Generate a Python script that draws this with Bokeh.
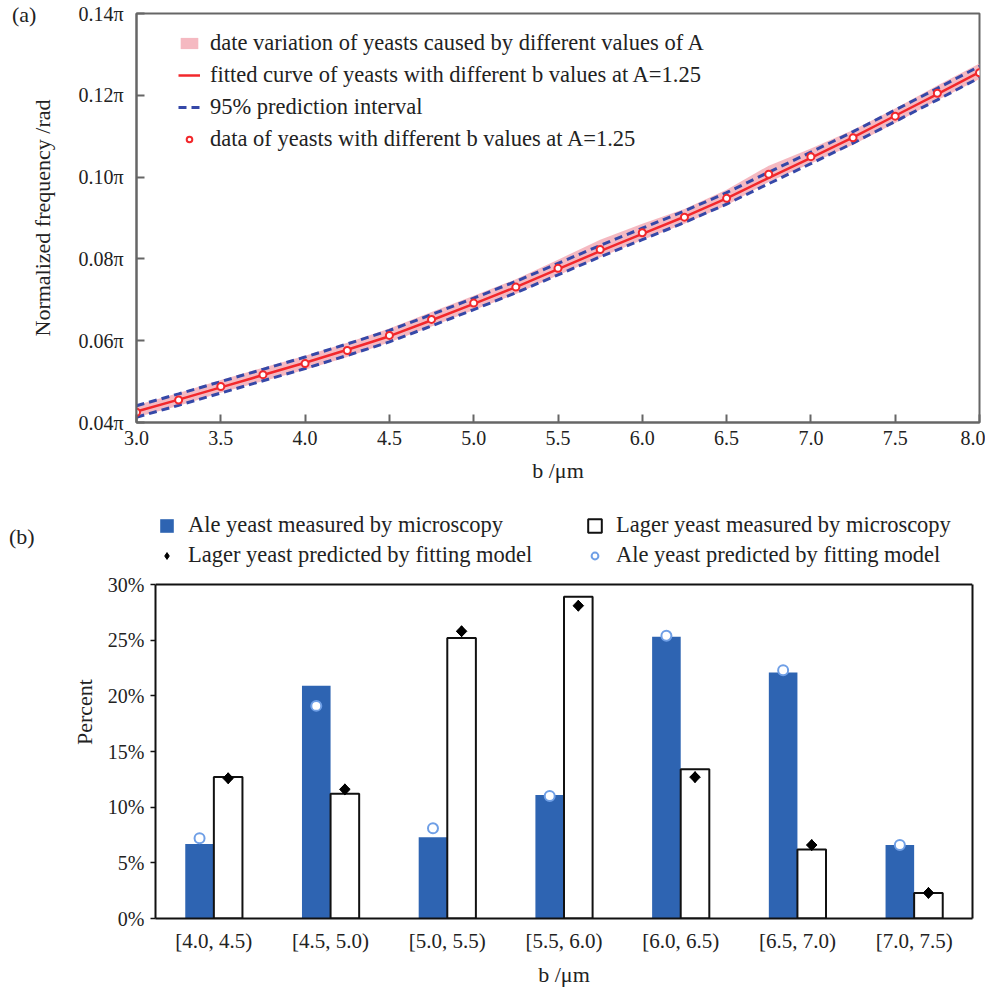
from bokeh.plotting import figure
from bokeh.models import (Legend, LegendItem, PrintfTickFormatter, FixedTicker, Div, Span, LinearAxis,
                          ColumnDataSource, Range1d, FactorRange)
from bokeh.transform import dodge
from bokeh.embed import file_html
from bokeh.resources import INLINE

FONT = "Liberation Serif"
TXT = "#222222"

# ---------------- (a) data: normalized frequency (units of pi) ----------------
b_vals = [3.0, 3.25, 3.5, 3.75, 4.0, 4.25, 4.5, 4.75, 5.0, 5.25, 5.5,
          5.75, 6.0, 6.25, 6.5, 6.75, 7.0, 7.25, 7.5, 7.75, 8.0]
freq_data = [0.0425, 0.0455, 0.0488, 0.0517, 0.0544, 0.0576, 0.0613, 0.0652, 0.0692, 0.0731, 0.0777,
             0.0823, 0.0864, 0.0902, 0.0948, 0.1007, 0.1050, 0.1096, 0.1149, 0.1205, 0.1255]
fit_curve = [0.0427, 0.0456, 0.0486, 0.0516, 0.0546, 0.0578, 0.0611, 0.0650, 0.0690, 0.0731, 0.0775,
             0.0819, 0.0861, 0.0903, 0.0948, 0.0998, 0.1047, 0.1097, 0.1150, 0.1203, 0.1257]
pi_upper = [0.0441, 0.0470, 0.0500, 0.0530, 0.0560, 0.0592, 0.0625, 0.0664, 0.0704, 0.0745, 0.0789,
            0.0833, 0.0875, 0.0917, 0.0962, 0.1012, 0.1061, 0.1111, 0.1164, 0.1217, 0.1271]
pi_lower = [0.0413, 0.0442, 0.0472, 0.0502, 0.0532, 0.0564, 0.0597, 0.0636, 0.0676, 0.0717, 0.0761,
            0.0805, 0.0847, 0.0889, 0.0934, 0.0984, 0.1033, 0.1083, 0.1136, 0.1189, 0.1243]
band_upper = [0.0442, 0.0472, 0.0504, 0.0534, 0.0563, 0.0595, 0.0630, 0.0670, 0.0710, 0.0750, 0.0798,
              0.0847, 0.0886, 0.0922, 0.0969, 0.1028, 0.1070, 0.1115, 0.1168, 0.1224, 0.1278]
band_lower = [0.0413, 0.0441, 0.0473, 0.0501, 0.0529, 0.0560, 0.0596, 0.0635, 0.0675, 0.0714, 0.0760,
              0.0804, 0.0846, 0.0886, 0.0931, 0.0988, 0.1033, 0.1079, 0.1132, 0.1188, 0.1240]
x_ticks_a = [3.0, 3.5, 4.0, 4.5, 5.0, 5.5, 6.0, 6.5, 7.0, 7.5, 8.0]
y_ticks_a = [0.04, 0.06, 0.08, 0.10, 0.12, 0.14]

# ---------------- (b) data: percent per size bin ----------------
categories = ["[4.0, 4.5)", "[4.5, 5.0)", "[5.0, 5.5)", "[5.5, 6.0)", "[6.0, 6.5)", "[6.5, 7.0)", "[7.0, 7.5)"]
ale_measured = [6.7, 20.9, 7.3, 11.1, 25.3, 22.1, 6.6]
lager_measured = [12.7, 11.2, 25.2, 28.9, 13.4, 6.2, 2.3]
lager_predicted = [12.6, 11.6, 25.8, 28.1, 12.7, 6.6, 2.3]
ale_predicted = [7.2, 19.1, 8.1, 11.0, 25.4, 22.3, 6.6]
y_ticks_b = [0, 5, 10, 15, 20, 25, 30]


def panel_tag(text, left, top):
    return Div(text=text, margin=0,
               styles={"position": "absolute", "left": f"{left}px", "top": f"{top}px",
                       "font-family": FONT, "font-size": "22px", "color": TXT,
                       "line-height": "22px", "white-space": "nowrap"})


# =============================== figure (a) ===============================
GRAY = "#666666"
p1 = figure(width=985, height=498, x_range=Range1d(3.0, 8.0), y_range=Range1d(0.04, 0.14),
            output_backend="svg", toolbar_location=None,
            min_border_left=136, min_border_right=6, min_border_top=13, min_border_bottom=76)
p1.xgrid.visible = False
p1.ygrid.visible = False
p1.outline_line_color = GRAY
p1.outline_line_width = 2

band = p1.varea(x=b_vals, y1=band_lower, y2=band_upper, fill_color="#F3A7B2", fill_alpha=0.8)
up = p1.line(b_vals, pi_upper, line_color="#3548A8", line_width=3, line_dash="8 5")
p1.line(b_vals, pi_lower, line_color="#3548A8", line_width=3, line_dash="8 5")
fitl = p1.line(b_vals, fit_curve, line_color="#F2282C", line_width=2.5)
pts = p1.scatter(b_vals, freq_data, size=7, fill_color="white", line_color="#F2282C", line_width=2)

for ax in (p1.below[0], p1.left[0]):
    ax.axis_line_color = GRAY
    ax.axis_line_width = 2
    ax.major_tick_line_color = GRAY
    ax.major_tick_line_width = 2
    ax.major_tick_in = 8
    ax.major_tick_out = 0
    ax.minor_tick_line_color = None
    ax.minor_tick_in = 0
    ax.minor_tick_out = 0
    ax.major_label_text_font = FONT
    ax.major_label_text_font_size = "20px"
    ax.major_label_text_color = TXT
    ax.axis_label_text_font = FONT
    ax.axis_label_text_font_size = "22px"
    ax.axis_label_text_font_style = "normal"
    ax.axis_label_text_color = TXT

xa = p1.below[0]
xa.ticker = FixedTicker(ticks=x_ticks_a)
xa.formatter = PrintfTickFormatter(format="%.1f")
xa.major_label_standoff = 8
xa.axis_label = "b /μm"
xa.axis_label_standoff = 10
ya = p1.left[0]
ya.ticker = FixedTicker(ticks=y_ticks_a)
ya.formatter = PrintfTickFormatter(format="%.2fπ")
ya.major_label_standoff = 13
ya.axis_label = "Normalized frequency /rad"
ya.axis_label_standoff = 20

leg1 = Legend(items=[
    LegendItem(label="date variation of yeasts caused by different values of A", renderers=[band]),
    LegendItem(label="fitted curve of yeasts with different b values at A=1.25", renderers=[fitl]),
    LegendItem(label="95% prediction interval", renderers=[up]),
    LegendItem(label="data of yeasts with different b values at A=1.25", renderers=[pts]),
], location=(42, 270))
leg1.border_line_color = None
leg1.background_fill_alpha = 0
leg1.label_text_font = FONT
leg1.label_text_font_size = "22.5px"
leg1.label_text_color = TXT
leg1.glyph_width = 22
leg1.glyph_height = 14
leg1.label_height = 14
leg1.label_standoff = 10
leg1.spacing = 6
leg1.padding = 0
leg1.margin = 0
p1.add_layout(leg1)

# =============================== figure (b) ===============================
src = ColumnDataSource(dict(cat=categories, ale=ale_measured, lager=lager_measured,
                            lager_p=lager_predicted, ale_p=ale_predicted))
p2 = figure(width=985, height=491, x_range=FactorRange(factors=categories, range_padding=0),
            y_range=Range1d(0, 37.1), output_backend="svg", toolbar_location=None,
            min_border_left=155, min_border_right=13, min_border_top=7, min_border_bottom=70)
p2.xgrid.visible = False
p2.ygrid.visible = False
p2.outline_line_color = None

ale_bar = p2.vbar(x=dodge("cat", -0.1225, range=p2.x_range), top="ale", width=0.245, source=src,
                  fill_color="#2E64B2", line_color="#2E64B2", line_width=0)
lager_bar = p2.vbar(x=dodge("cat", 0.1225, range=p2.x_range), top="lager", width=0.245, source=src,
                    fill_color="white", line_color="#111111", line_width=2)
p2.scatter(x=dodge("cat", 0.1225, range=p2.x_range), y="lager_p", source=src,
           marker="square", angle=0.785398, size=7.5, fill_color="black", line_color="black")
lager_pt = p2.scatter(x=dodge("cat", 0.1225, range=p2.x_range), y="lager_p", source=src,
                      marker="diamond", size=11, fill_color="black", line_color="black")
ale_pt = p2.scatter(x=dodge("cat", -0.1225, range=p2.x_range), y="ale_p", source=src,
                    marker="circle", size=10, fill_color="white", line_color="#6F9FE6", line_width=2)

p2.add_layout(Span(location=30, dimension="width", line_color="#111111", line_width=2))
rax = LinearAxis(ticker=FixedTicker(ticks=[]), bounds=(0, 30), axis_line_color="#111111", axis_line_width=2,
                 major_tick_in=0, major_tick_out=0, minor_tick_in=0, minor_tick_out=0, major_label_standoff=0)
p2.add_layout(rax, "right")

xb = p2.below[0]
yb = p2.left[0]
for ax in (xb, yb):
    ax.axis_line_color = "#111111"
    ax.axis_line_width = 2
    ax.minor_tick_line_color = None
    ax.minor_tick_in = 0
    ax.minor_tick_out = 0
    ax.major_label_text_font = FONT
    ax.major_label_text_color = TXT
    ax.axis_label_text_font = FONT
    ax.axis_label_text_font_size = "22px"
    ax.axis_label_text_font_style = "normal"
    ax.axis_label_text_color = TXT

xb.major_tick_line_color = None
xb.major_tick_in = 0
xb.major_tick_out = 0
xb.major_label_text_font_size = "21px"
xb.major_label_standoff = 10
xb.axis_label = "b /μm"
xb.axis_label_standoff = 6
yb.bounds = (0, 30)
yb.ticker = FixedTicker(ticks=y_ticks_b)
yb.formatter = PrintfTickFormatter(format="%d%%")
yb.major_label_text_font_size = "20px"
yb.major_tick_line_color = "#111111"
yb.major_tick_line_width = 1.5
yb.major_tick_in = 0
yb.major_tick_out = 5
yb.major_label_standoff = 6
yb.axis_label = "Percent"
yb.axis_label_standoff = 8


def style_legend(lg):
    lg.border_line_color = None
    lg.background_fill_alpha = 0
    lg.label_text_font = FONT
    lg.label_text_font_size = "22.5px"
    lg.label_text_color = TXT
    lg.glyph_width = 17
    lg.glyph_height = 17
    lg.label_height = 17
    lg.label_standoff = 13
    lg.spacing = 4
    lg.padding = 0
    lg.margin = 0


leg2a = Legend(items=[LegendItem(label="Ale yeast measured by microscopy", renderers=[ale_bar]),
                      LegendItem(label="Lager yeast predicted by fitting model", renderers=[lager_pt])],
               location=(3, 350))
leg2b = Legend(items=[LegendItem(label="Lager yeast measured by microscopy", renderers=[lager_bar]),
                      LegendItem(label="Ale yeast predicted by fitting model", renderers=[ale_pt])],
               location=(431, 350))
style_legend(leg2a)
style_legend(leg2b)
p2.add_layout(leg2a)
p2.add_layout(leg2b)

roots = [p1, p2, panel_tag("(a)", 12, 4), panel_tag("(b)", 9, 526)]
open("out.html", "w").write(file_html(roots, INLINE))
